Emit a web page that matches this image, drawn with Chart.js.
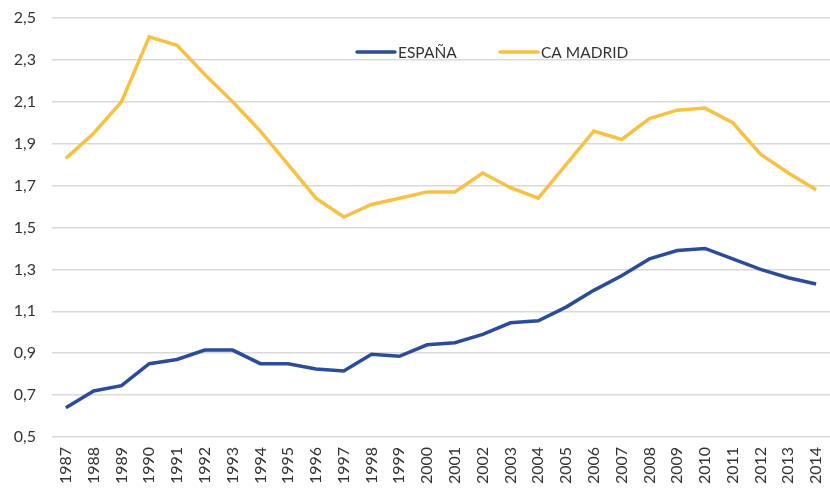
<!DOCTYPE html>
<html>
<head>
<meta charset="utf-8">
<script src="https://cdn.jsdelivr.net/npm/chart.js@4.4.0/dist/chart.umd.min.js"></script>
<style>
  html, body { margin: 0; padding: 0; background: #fff; }
  #wrap { width: 830px; height: 488px; }
</style>
</head>
<body>
<div id="wrap"><canvas id="myChart" width="830" height="488"></canvas></div>
<script>
var years = ['1987', '1988', '1989', '1990', '1991', '1992', '1993', '1994', '1995', '1996',
             '1997', '1998', '1999', '2000', '2001', '2002', '2003', '2004', '2005', '2006',
             '2007', '2008', '2009', '2010', '2011', '2012', '2013', '2014'];

var espana = [0.64, 0.72, 0.745, 0.85, 0.87, 0.915, 0.915, 0.85, 0.85, 0.825,
              0.815, 0.895, 0.885, 0.94, 0.95, 0.99, 1.045, 1.055, 1.12, 1.20,
              1.27, 1.35, 1.39, 1.40, 1.35, 1.30, 1.26, 1.23];

var madrid = [1.83, 1.95, 2.10, 2.41, 2.37, 2.23, 2.10, 1.96, 1.80, 1.64,
              1.55, 1.61, 1.64, 1.67, 1.67, 1.76, 1.69, 1.64, 1.80, 1.96,
              1.92, 2.02, 2.06, 2.07, 2.00, 1.85, 1.76, 1.68];

var yTicks = [0.5, 0.7, 0.9, 1.1, 1.3, 1.5, 1.7, 1.9, 2.1, 2.3, 2.5];

var textColor = '#333333';
var fontFamily = 'Lato, "Open Sans", sans-serif';

// legend drawn inside the plot, like the spreadsheet chart
var legendPlugin = {
    id: 'innerLegend',
    afterDraw: function (chart) {
        var ctx = chart.ctx;
        var area = chart.chartArea;
        var y = area.top + 34;
        var items = [
            { x: area.left + 305, label: 'ESPAÑA', color: chart.data.datasets[0].borderColor },
            { x: area.left + 448, label: 'CA MADRID', color: chart.data.datasets[1].borderColor }
        ];
        ctx.save();
        ctx.font = '15.5px ' + fontFamily;
        ctx.textBaseline = 'middle';
        ctx.textAlign = 'left';
        items.forEach(function (it) {
            ctx.strokeStyle = it.color;
            ctx.lineWidth = 3.5;
            ctx.lineCap = 'round';
            ctx.beginPath();
            ctx.moveTo(it.x, y);
            ctx.lineTo(it.x + 38, y);
            ctx.stroke();
            ctx.fillStyle = textColor;
            ctx.fillText(it.label, it.x + 41, y + 1);
        });
        ctx.restore();
    }
};

var ctx = document.getElementById('myChart').getContext('2d');
var myChart = new Chart(ctx, {
    type: 'line',
    data: {
        labels: years,
        datasets: [{
            label: 'ESPAÑA',
            data: espana,
            borderColor: '#2B4C9B',
            backgroundColor: '#2B4C9B',
            borderWidth: 3.5,
            pointRadius: 0,
            tension: 0
        }, {
            label: 'CA MADRID',
            data: madrid,
            borderColor: '#F8C143',
            backgroundColor: '#F8C143',
            borderWidth: 3.5,
            pointRadius: 0,
            tension: 0
        }]
    },
    options: {
        responsive: false,
        animation: false,
        layout: { padding: { top: 18, right: -6, left: 0, bottom: 0 } },
        plugins: {
            legend: { display: false },
            tooltip: { enabled: false }
        },
        scales: {
            x: {
                offset: true,
                grid: { display: false, drawTicks: false },
                border: { display: false },
                ticks: {
                    color: textColor,
                    font: { family: fontFamily, size: 16 },
                    maxRotation: 90,
                    minRotation: 90,
                    autoSkip: false,
                    padding: 10
                },
                afterFit: function (s) { s.height = 51; s.paddingLeft = 0; s.paddingRight = 0; }
            },
            y: {
                min: 0.5,
                max: 2.5,
                afterBuildTicks: function (s) {
                    s.ticks = yTicks.map(function (v) { return { value: v }; });
                },
                grid: { color: '#d9d9d9', lineWidth: 1.5, drawTicks: false },
                border: { display: false },
                ticks: {
                    color: textColor,
                    font: { family: fontFamily, size: 16 },
                    padding: 16,
                    callback: function (v) { return v.toFixed(1).replace('.', ','); }
                },
                afterFit: function (s) { s.width = 52; s.paddingTop = 0; s.paddingBottom = 0; }
            }
        }
    },
    plugins: [legendPlugin]
});
</script>
</body>
</html>
